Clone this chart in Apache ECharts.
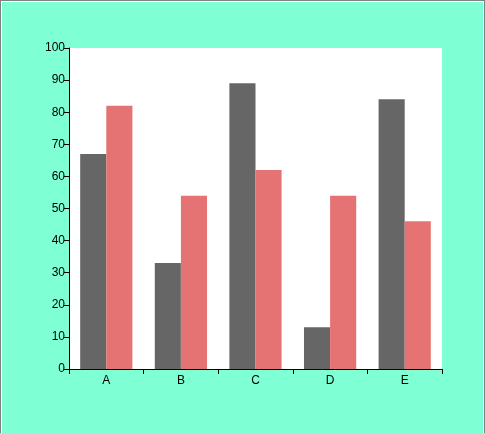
<!DOCTYPE html>
<html><head><meta charset="utf-8">
<script src="https://cdn.jsdelivr.net/npm/echarts@6/dist/echarts.min.js"></script>
<style>
html,body{margin:0;padding:0;background:#fff;}
#wrap{position:relative;width:485px;height:433px;}
#c{position:absolute;left:0;top:0;width:485px;height:433px;}
#b1{position:absolute;left:0;top:0;width:485px;height:433px;box-sizing:border-box;border:1px solid #808080;border-bottom:none;pointer-events:none;}
#b2{position:absolute;left:1px;top:1px;width:483px;height:432px;box-sizing:border-box;border:1px solid #ffffff;border-bottom:none;pointer-events:none;}
</style></head>
<body><div id="wrap"><div id="c"></div><div id="b1"></div><div id="b2"></div></div>
<script>
const categories = ['A','B','C','D','E'];
const series1 = [67, 33, 89, 13, 84];
const series2 = [82, 54, 62, 54, 46];
const yMin = 0, yMax = 100, yInterval = 10;

const chart = echarts.init(document.getElementById('c'));
chart.setOption({
  backgroundColor: '#7FFFD4',
  animation: false,
  grid: {left: 69, right: 43, top: 48, bottom: 64, show: true, backgroundColor: '#ffffff', borderWidth: 0},
  xAxis: {
    type: 'category', data: categories,
    axisLine: {lineStyle: {color: '#000', width: 1}},
    axisTick: {show: true, length: 5, lineStyle: {color: '#000'}},
    axisLabel: {color: '#000', fontSize: 12, fontFamily: 'Liberation Sans', margin: 6},
    splitLine: {show: false}
  },
  yAxis: {
    type: 'value', min: yMin, max: yMax, interval: yInterval,
    axisLine: {show: true, lineStyle: {color: '#000', width: 1}},
    axisTick: {show: true, length: 5, lineStyle: {color: '#000'}},
    axisLabel: {color: '#000', fontSize: 12, fontFamily: 'Liberation Sans', margin: 4},
    splitLine: {show: false}
  },
  series: [
    {type: 'bar', data: series1, itemStyle: {color: '#666666'}, barGap: '0%', barCategoryGap: '30%'},
    {type: 'bar', data: series2, itemStyle: {color: '#E57373'}, barGap: '0%', barCategoryGap: '30%'}
  ]
});
</script></body></html>
